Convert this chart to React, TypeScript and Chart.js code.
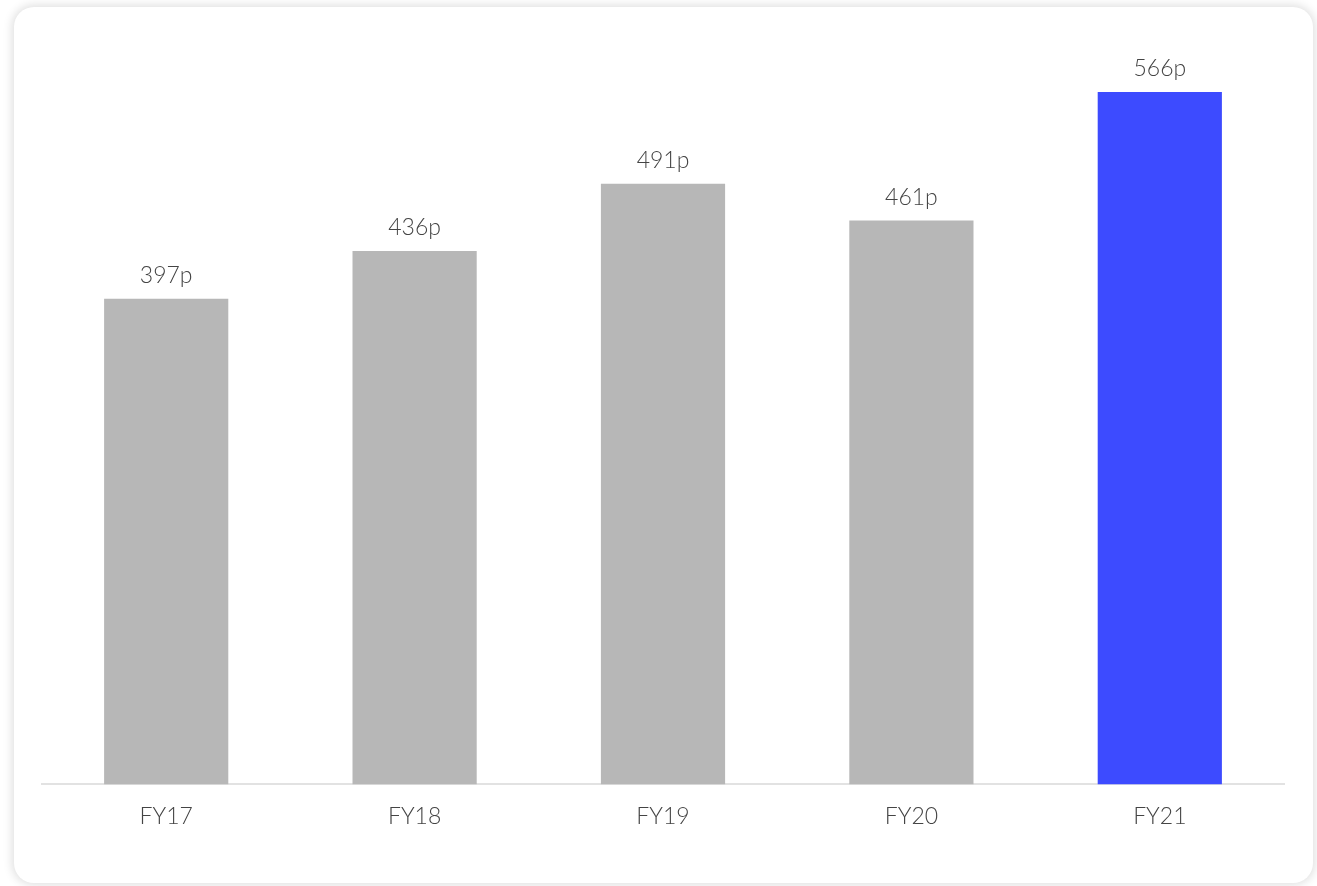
import React, { useEffect, useRef } from "react";
import { Chart, registerables } from "chart.js";

Chart.register(...registerables);

// Earnings per share by financial year
const categories = ["FY17", "FY18", "FY19", "FY20", "FY21"];
const values = [397, 436, 491, 461, 566];
const valueLabels = ["397p", "436p", "491p", "461p", "566p"];
const barColors = ["#b7b7b7", "#b7b7b7", "#b7b7b7", "#b7b7b7", "#3d4bff"];

const FONT = "Lato, 'Open Sans', sans-serif";
const TEXT_COLOR = "#444444";

const CARD_W = 1299;
const CARD_H = 876;

// Writes each bar's label just above its top edge
const valueLabelPlugin = {
  id: "valueLabels",
  afterDatasetsDraw(chart: any) {
    const { ctx } = chart;
    const meta = chart.getDatasetMeta(0);
    ctx.save();
    ctx.font = `300 23px ${FONT}`;
    ctx.fillStyle = TEXT_COLOR;
    ctx.textAlign = "center";
    ctx.textBaseline = "alphabetic";
    meta.data.forEach((bar: any, i: number) => {
      ctx.fillText(valueLabels[i], bar.x, bar.y - 16);
    });
    ctx.restore();
  },
};

export default function App() {
  const canvasRef = useRef<HTMLCanvasElement | null>(null);

  useEffect(() => {
    if (!canvasRef.current) return;
    const chart = new Chart(canvasRef.current, {
      type: "bar",
      data: {
        labels: categories,
        datasets: [
          {
            data: values,
            backgroundColor: barColors,
            borderWidth: 0,
            barPercentage: 0.5,
            categoryPercentage: 1,
          },
        ],
      },
      options: {
        responsive: false,
        animation: false,
        devicePixelRatio: 1,
        layout: { padding: { left: 28, right: 29, top: 43.5, bottom: 35 } },
        plugins: {
          legend: { display: false },
          tooltip: { enabled: false },
        },
        scales: {
          x: {
            grid: { display: false, drawTicks: false },
            border: { display: true, color: "#e2e2e2", width: 2 },
            ticks: {
              color: TEXT_COLOR,
              font: { family: FONT, size: 23, weight: "300" as any },
              padding: 18,
            },
          },
          y: {
            display: false,
            min: 0,
            max: 600,
          },
        },
      },
      plugins: [valueLabelPlugin],
    });
    return () => chart.destroy();
  }, []);

  return (
    <div
      style={{
        position: "absolute",
        left: 14,
        top: 7,
        width: CARD_W,
        height: CARD_H,
        background: "#ffffff",
        borderRadius: 20,
        boxShadow: "0 0 10px 2px rgba(0,0,0,0.13)",
        overflow: "hidden",
      }}
    >
      <canvas ref={canvasRef} width={CARD_W} height={CARD_H} style={{ display: "block" }} />
    </div>
  );
}
